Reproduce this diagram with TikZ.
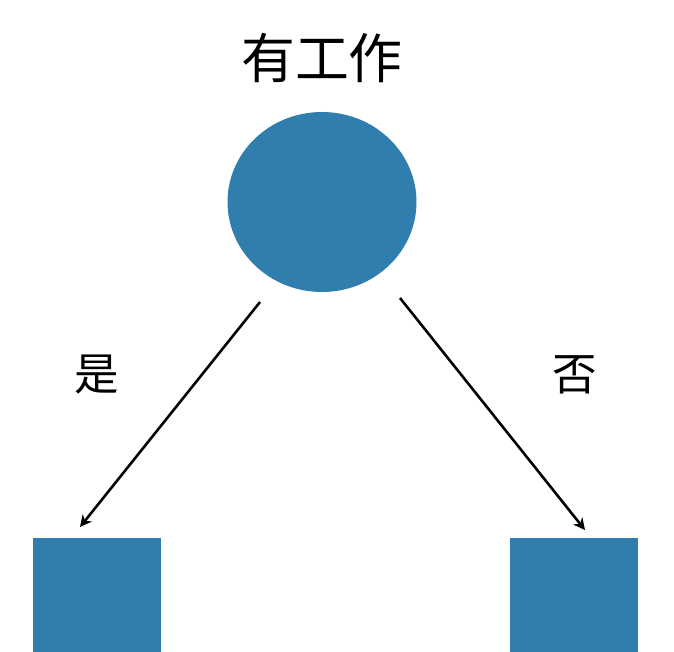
\documentclass[tikz,border=0pt]{standalone}
\usepackage{fontspec}
\newfontfamily\cjk{Noto Sans CJK SC}
\usetikzlibrary{shapes.geometric,arrows.meta}
\definecolor{leafblue}{HTML}{2F7EAE}
\tikzset{
  dot/.style={ellipse, fill=leafblue, minimum width=189*0.03cm, minimum height=180*0.03cm},
  leaf/.style={rectangle, fill=leafblue, minimum width=128*0.03cm, minimum height=120*0.03cm, anchor=north west},
  lbl/.style={font=\cjk\fontsize{38pt}{38pt}\selectfont},
  arrow/.style={line width=2.2pt, -{Stealth[length=10pt,width=10pt]}}
}
\begin{document}
\begin{tikzpicture}[x=0.03cm,y=-0.03cm]
\useasboundingbox (0,0) rectangle (674,652);
%nodes
\node[font=\cjk\fontsize{46pt}{46pt}\selectfont] (title) at (322,58) {有工作};
\node[dot] (root) at (322,202) {};
\node[leaf] (yes) at (33,538) {};
\node[leaf] (no) at (510,538) {};
\clip (0,0) rectangle (674,652);
%labels
\node[lbl] (lyes) at (97,375) {是};
\node[lbl] (lno) at (575,375) {否};
%arrows
\coordinate (a1) at (260,302);
\coordinate (a2) at (400,298);
\draw[arrow] (a1) -- (80,527);
\draw[arrow] (a2) -- (585,530);
\end{tikzpicture}
\end{document}
